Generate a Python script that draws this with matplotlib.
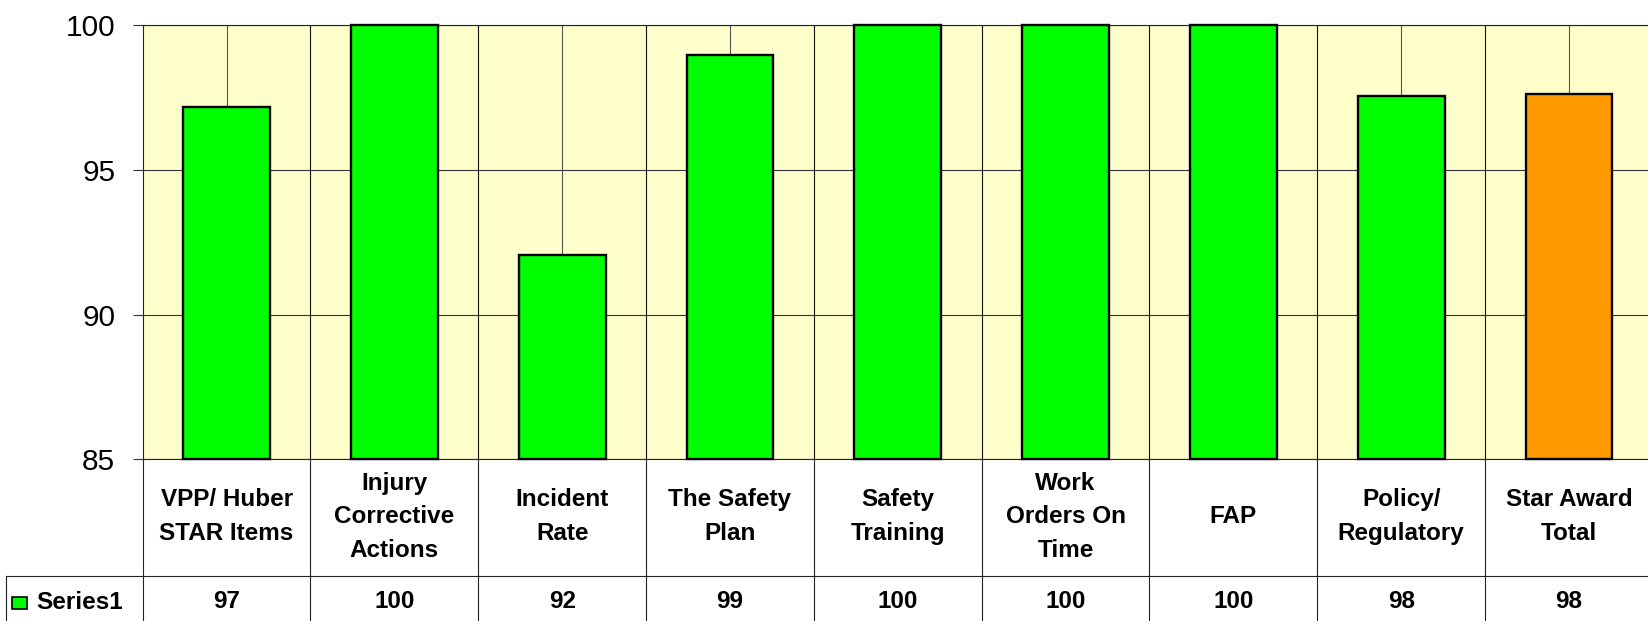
import matplotlib
matplotlib.use('Agg')
import matplotlib.pyplot as plt
from matplotlib.transforms import blended_transform_factory
from matplotlib.patches import Rectangle
from matplotlib.lines import Line2D
import numpy as np

plt.rcParams['font.family'] = ['Liberation Sans', 'DejaVu Sans']

# ---------------- data ----------------
categories = [
    "VPP/ Huber\nSTAR Items",
    "Injury\nCorrective\nActions",
    "Incident\nRate",
    "The Safety\nPlan",
    "Safety\nTraining",
    "Work\nOrders On\nTime",
    "FAP",
    "Policy/\nRegulatory",
    "Star Award\nTotal",
]
values = [97.16, 100, 92.04, 98.97, 100, 100, 100, 97.55, 97.62]
bar_colors = ["#00FF00"] * 8 + ["#FF9900"]
series_name = "Series1"
yticks = [85, 90, 95, 100]

# ---------------- layout ----------------
W, H = 1648, 621
fig = plt.figure(figsize=(W / 100, H / 100), dpi=100)
fig.patch.set_facecolor('white')

def fy(p):
    return 1 - p / H

def fx(p):
    return p / W

left_px, right_px = 142.7, 1652.9
top_px, bot_px = 25.0, 459.3
ax = fig.add_axes([fx(left_px), fy(bot_px), (right_px - left_px) / W, (bot_px - top_px) / H])
ax.set_facecolor('#FFFFCC')
ax.set_xlim(-0.5, len(values) - 0.5)
ax.set_ylim(yticks[0], yticks[-1])

x = np.arange(len(values))
base = yticks[0]

# gridlines
ax.set_axisbelow(True)
ax.yaxis.grid(True, color='#333333', linewidth=0.8)
ax.vlines(x, base, yticks[-1], colors='#555555', linewidth=0.8, zorder=0.6)
ax.vlines(x[:-1] + 0.5, base, yticks[-1], colors='#111111', linewidth=0.8, zorder=0.6)

# bars
ax.bar(x, np.array(values) - base, bottom=base, width=0.517,
       color=bar_colors, edgecolor='black', linewidth=1.7, zorder=3, clip_on=False)

# axes styling
ax.set_xticks([])
ax.set_yticks(yticks)
ax.tick_params(axis='y', direction='out', length=7.2, width=0.8, color='#333333',
               pad=12.5, labelsize=21.5, labelcolor='black')
for s in ['top', 'left', 'bottom']:
    ax.spines[s].set_color('#222222')
    ax.spines[s].set_linewidth(0.8)
ax.spines['right'].set_visible(False)

# ---------------- data table ----------------
trans = blended_transform_factory(ax.transData, fig.transFigure)
line_kw = dict(color='#222222', linewidth=0.8)

row_div = 575.7
for b in np.arange(len(values) + 1) - 0.5:
    fig.add_artist(Line2D([b, b], [fy(bot_px), fy(H + 5)], transform=trans, **line_kw))
fig.add_artist(Line2D([fx(5.7), fx(W + 5)], [fy(row_div), fy(row_div)],
                      transform=fig.transFigure, **line_kw))
fig.add_artist(Line2D([fx(5.7), fx(5.7)], [fy(row_div), fy(H + 5)],
                      transform=fig.transFigure, **line_kw))

txt_kw = dict(fontsize=17.5, fontweight='bold', color='black')
mid_base, spacing = 523.3, 33.7
for i, cat in enumerate(categories):
    lines = cat.split('\n')
    n = len(lines)
    for j, ln in enumerate(lines):
        bl = mid_base + (j - (n - 1) / 2) * spacing
        fig.text(i, fy(bl), ln, transform=trans, ha='center', va='baseline', **txt_kw)

for i, v in enumerate(values):
    fig.text(i, fy(608.5), f"{v:.0f}", transform=trans, ha='center', va='baseline', **txt_kw)

# legend key + series name
fig.add_artist(Rectangle((fx(12.3), fy(609.3)), 14.4 / W, 12.6 / H, transform=fig.transFigure,
                         facecolor='#00FF00', edgecolor='black', linewidth=1.2))
fig.text(fx(36), fy(609), series_name, ha='left', va='baseline', **txt_kw)

fig.savefig('out.png', dpi=100)
